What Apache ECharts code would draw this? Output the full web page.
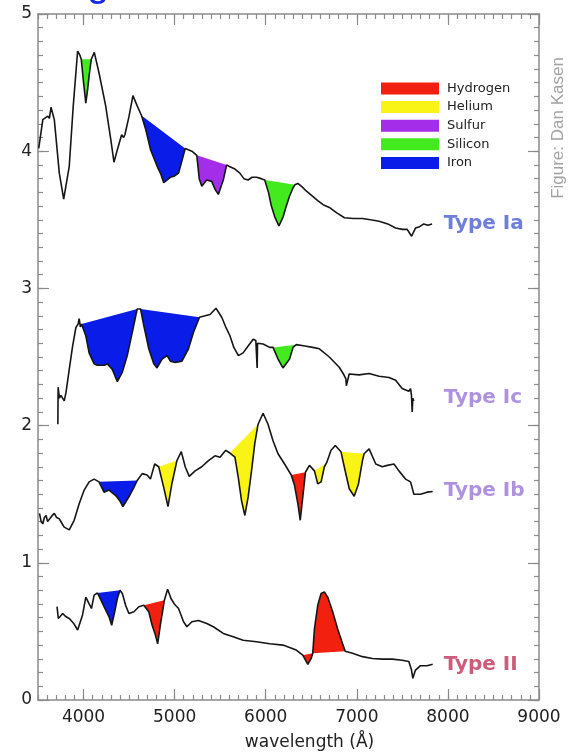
<!DOCTYPE html>
<html>
<head>
<meta charset="utf-8">
<script src="https://cdn.jsdelivr.net/npm/echarts@6.0.0/dist/echarts.min.js"></script>
<style>
html,body{margin:0;padding:0;background:#fff;}
#chart{width:571px;height:756px;}
</style>
</head>
<body>
<div id="chart"></div>
<script>
// ---------- DATA ----------
const specIa = [[3508,4.02],[3553,4.23],[3607,4.255],[3625,4.24],[3643,4.32],[3679,4.23],[3734,3.84],[3782,3.65],[3843,3.89],[3887,4.33],[3935,4.73],[3960,4.70],[3975,4.67],[4000,4.50],[4025,4.35],[4045,4.45],[4061,4.55],[4085,4.67],[4118,4.72],[4170,4.57],[4243,4.33],[4298,4.09],[4334,3.92],[4371,4.01],[4418,4.12],[4440,4.10],[4454,4.12],[4498,4.25],[4542,4.405],[4589,4.33],[4636,4.26],[4682,4.16],[4736,4.01],[4808,3.89],[4850,3.83],[4880,3.77],[4953,3.81],[5000,3.82],[5043,3.84],[5080,3.93],[5116,4.02],[5150,4.01],[5189,4.0],[5243,3.97],[5270,3.80],[5298,3.745],[5352,3.79],[5407,3.78],[5445,3.72],[5480,3.685],[5534,3.79],[5571,3.90],[5607,3.886],[5662,3.87],[5716,3.84],[5760,3.80],[5807,3.79],[5850,3.81],[5899,3.81],[5950,3.80],[5989,3.79],[6030,3.70],[6062,3.60],[6100,3.52],[6145,3.455],[6190,3.52],[6226,3.60],[6260,3.67],[6298,3.73],[6320,3.755],[6353,3.765],[6400,3.74],[6444,3.71],[6500,3.68],[6571,3.64],[6630,3.61],[6698,3.59],[6780,3.55],[6864,3.515],[6960,3.51],[7062,3.51],[7150,3.50],[7244,3.49],[7340,3.47],[7426,3.44],[7500,3.43],[7553,3.43],[7601,3.38],[7644,3.44],[7690,3.45],[7735,3.47],[7780,3.46],[7826,3.47]];

const specIc = [[3718,2.01],[3721,2.28],[3735,2.20],[3752,2.22],[3788,2.18],[3807,2.24],[3843,2.41],[3880,2.58],[3916,2.715],[3940,2.74],[3952,2.78],[3965,2.72],[3978,2.74],[4000,2.70],[4025,2.655],[4061,2.53],[4116,2.45],[4150,2.44],[4189,2.44],[4230,2.44],[4262,2.45],[4316,2.41],[4371,2.32],[4426,2.39],[4480,2.51],[4535,2.68],[4589,2.85],[4626,2.85],[4661,2.73],[4716,2.56],[4771,2.45],[4807,2.42],[4862,2.485],[4917,2.51],[4953,2.47],[5007,2.46],[5080,2.47],[5152,2.56],[5207,2.68],[5273,2.79],[5334,2.80],[5389,2.81],[5454,2.855],[5517,2.79],[5560,2.72],[5607,2.655],[5650,2.57],[5700,2.51],[5752,2.53],[5807,2.58],[5862,2.63],[5891,2.62],[5903,2.62],[5906,2.42],[5910,2.60],[5971,2.595],[6044,2.57],[6080,2.57],[6135,2.485],[6189,2.42],[6262,2.485],[6300,2.57],[6335,2.59],[6353,2.60],[6430,2.58],[6516,2.57],[6589,2.56],[6698,2.50],[6807,2.425],[6850,2.38],[6880,2.34],[6885,2.29],[6916,2.376],[7025,2.37],[7135,2.38],[7244,2.36],[7353,2.35],[7426,2.33],[7498,2.27],[7571,2.25],[7590,2.27],[7600,2.22],[7608,2.10],[7615,2.20],[7626,2.18]];

const specIb = [[3516,1.36],[3535,1.30],[3553,1.285],[3570,1.33],[3589,1.345],[3605,1.30],[3625,1.31],[3650,1.34],[3679,1.36],[3705,1.33],[3734,1.32],[3760,1.29],[3788,1.26],[3843,1.24],[3897,1.31],[3952,1.43],[4007,1.53],[4061,1.59],[4116,1.61],[4170,1.59],[4225,1.515],[4280,1.53],[4353,1.49],[4400,1.45],[4432,1.41],[4498,1.48],[4553,1.55],[4589,1.60],[4644,1.65],[4698,1.64],[4734,1.61],[4781,1.72],[4825,1.70],[4880,1.55],[4927,1.41],[4971,1.58],[5025,1.745],[5073,1.81],[5116,1.70],[5160,1.63],[5225,1.67],[5298,1.70],[5371,1.745],[5443,1.78],[5498,1.77],[5561,1.82],[5607,1.80],[5662,1.77],[5698,1.625],[5734,1.455],[5771,1.345],[5807,1.48],[5844,1.67],[5880,1.87],[5916,2.01],[5971,2.09],[6025,2.01],[6080,1.89],[6135,1.795],[6207,1.72],[6280,1.64],[6316,1.565],[6353,1.43],[6379,1.31],[6407,1.48],[6436,1.66],[6480,1.71],[6535,1.67],[6571,1.575],[6608,1.59],[6644,1.70],[6669,1.73],[6717,1.82],[6764,1.855],[6826,1.81],[6862,1.70],[6917,1.54],[6971,1.485],[7018,1.575],[7062,1.745],[7080,1.795],[7135,1.83],[7208,1.72],[7280,1.70],[7335,1.71],[7408,1.72],[7462,1.67],[7535,1.61],[7590,1.59],[7626,1.50],[7699,1.50],[7771,1.515],[7833,1.52]];

const specII = [[3709,0.68],[3723,0.594],[3745,0.61],[3771,0.63],[3800,0.61],[3843,0.594],[3890,0.56],[3935,0.51],[3989,0.62],[4025,0.75],[4061,0.70],[4087,0.667],[4116,0.764],[4153,0.78],[4190,0.73],[4225,0.68],[4280,0.606],[4309,0.545],[4342,0.643],[4371,0.74],[4400,0.80],[4426,0.776],[4462,0.69],[4498,0.63],[4553,0.643],[4607,0.68],[4661,0.69],[4716,0.643],[4753,0.545],[4789,0.473],[4814,0.41],[4843,0.545],[4873,0.667],[4887,0.727],[4923,0.807],[4960,0.74],[4996,0.70],[5043,0.667],[5098,0.57],[5135,0.534],[5189,0.57],[5262,0.58],[5353,0.558],[5425,0.534],[5534,0.485],[5643,0.461],[5752,0.436],[5898,0.425],[6044,0.41],[6189,0.40],[6335,0.364],[6407,0.327],[6462,0.26],[6499,0.303],[6516,0.34],[6535,0.52],[6571,0.69],[6608,0.776],[6644,0.788],[6680,0.75],[6735,0.643],[6789,0.52],[6844,0.41],[6873,0.356],[6953,0.34],[7062,0.316],[7171,0.303],[7280,0.298],[7389,0.298],[7498,0.29],[7571,0.28],[7600,0.22],[7615,0.158],[7644,0.218],[7699,0.25],[7771,0.25],[7833,0.26]];

// shaded line regions: [element, spectrum index (0 Ia,1 Ic,2 Ib,3 II), start wavelength, end wavelength]
const lineRegions = [
  ['Silicon',0,3975,4085],['Iron',0,4636,5116],['Sulfur',0,5243,5571],['Silicon',0,5989,6320],
  ['Iron',1,3978,4589],['Iron',1,4626,5273],['Silicon',1,6080,6335],
  ['Iron',2,4170,4589],['Helium',2,4825,5025],['Helium',2,5607,5916],['Hydrogen',2,6280,6436],['Helium',2,6535,6669],['Helium',2,6826,7080],
  ['Iron',3,4153,4400],['Hydrogen',3,4661,4887],['Hydrogen',3,6407,6516],['Hydrogen',3,6516,6873]
];

const elements = ['Hydrogen','Helium','Sulfur','Silicon','Iron'];
const typeNames = ['Type Ia','Type Ic','Type Ib','Type II'];
const typeLabelAnchors = [[7953,3.474],[7953,2.20],[7953,1.525],[7953,0.26]];
const xMajorTicks = [4000,5000,6000,7000,8000,9000];

// ---------- STYLE ----------
const elementColors = {Hydrogen:'#F2200F',Helium:'#FAF316',Sulfur:'#A42DEA',Silicon:'#42EA1E',Iron:'#0A1CE8'};
const typeColors = ['#4A5ED0','#9A77D8','#9A77D8','#BF3357'];
const spectra = [specIa, specIc, specIb, specII];
const frame = '#8a8a8a';

const chart = echarts.init(document.getElementById('chart'), null, {renderer:'canvas'});

function xAxisDef(pos, minor, labels) {
  const a = {
    type:'value', position:pos, min:3500, max:9000, gridIndex:0,
    splitLine:{show:false},
    axisLine:{show:!minor, onZero:false, lineStyle:{color:frame, width:1.5}},
    axisTick:{show:true, inside:true, length: minor?5:11, lineStyle:{color:frame, width:1.2}},
    axisLabel:{show:false}
  };
  if (minor) { a.interval = 100; }
  else { a.axisTick.customValues = xMajorTicks; }
  if (labels) {
    a.axisLabel = {show:true, customValues:xMajorTicks, margin:9, color:'#222', fontSize:17,
                   fontFamily:'DejaVu Sans', formatter: v => String(v)};
    a.name = 'wavelength (Å)';
    a.nameLocation = 'middle';
    a.nameGap = 34;
    a.nameTextStyle = {color:'#222', fontSize:17, fontFamily:'DejaVu Sans', padding:[0,0,0,42]};
  }
  return a;
}
function yAxisDef(pos, minor, labels) {
  return {
    type:'value', position:pos, min:0, max:5, interval: minor?0.1:1, gridIndex:0,
    splitLine:{show:false},
    axisLine:{show:!minor, onZero:false, lineStyle:{color:frame, width:1.5}},
    axisTick:{show:true, inside:true, length: minor?5:11, lineStyle:{color:frame, width:1.2}},
    axisLabel: labels ? {show:true, margin:6, color:'#222', fontSize:17, fontFamily:'DejaVu Sans', formatter: v => String(v)} : {show:false}
  };
}

const series = [];
elements.forEach(function(el){
  series.push({
    type:'custom', name:el, xAxisIndex:0, yAxisIndex:0, z:1,
    itemStyle:{color:elementColors[el]},
    encode:{x:[1,2], y:0},
    data: lineRegions.filter(r => r[0]===el).map(r => [r[1], r[2], r[3]]),
    renderItem: function(params, api){
      const k = api.value(0), s = api.value(1), e = api.value(2);
      const pts = spectra[k].filter(p => p[0] >= s && p[0] <= e).map(p => api.coord(p));
      return {type:'polygon', shape:{points:pts}, silent:true,
              style:{fill:api.visual('color'), stroke:null}};
    }
  });
});
spectra.forEach(function(sp, i){
  series.push({
    type:'line', name:typeNames[i], xAxisIndex:0, yAxisIndex:0, z:3,
    data: sp, showSymbol:false, symbol:'none', smooth:false,
    lineStyle:{color:'#161616', width:1.6}
  });
});
series.push({
  type:'scatter', name:'labels', xAxisIndex:0, yAxisIndex:0, z:4, symbolSize:0,
  data: typeLabelAnchors.map((p,i) => ({value:p, label:{color:typeColors[i], formatter:typeNames[i]}})),
  label:{show:true, position:'right', distance:0, fontSize:20, fontWeight:'bold', fontFamily:'DejaVu Sans'},
  silent:true
});

chart.setOption({
  animation:false,
  backgroundColor:'#fff',
  grid:{left:38, right:32, top:14, bottom:54, containLabel:false},
  xAxis:[xAxisDef('bottom',false,true), xAxisDef('bottom',true,false), xAxisDef('top',false,false), xAxisDef('top',true,false)],
  yAxis:[yAxisDef('left',false,true), yAxisDef('left',true,false), yAxisDef('right',false,false), yAxisDef('right',true,false)],
  legend:{
    data:elements, orient:'vertical', left:376, top:77, icon:'rect',
    itemWidth:58, itemHeight:12, itemGap:5.6, selectedMode:false,
    textStyle:{fontSize:13, color:'#222', fontFamily:'DejaVu Sans', lineHeight:13, padding:[0,0,0,3]}
  },
  graphic:[
    {type:'text', x:558, y:128, rotation:Math.PI/2, silent:true,
     style:{text:'Figure: Dan Kasen', fill:'#a2a2a2', font:'17px "Liberation Sans"', align:'center', verticalAlign:'middle'}},
    {type:'text', x:98, y:-15, silent:true,
     style:{text:'g', fill:'#1428e6', font:'40px "Liberation Sans"', align:'center', verticalAlign:'middle'}}
  ],
  series:series
});
</script>
</body>
</html>
